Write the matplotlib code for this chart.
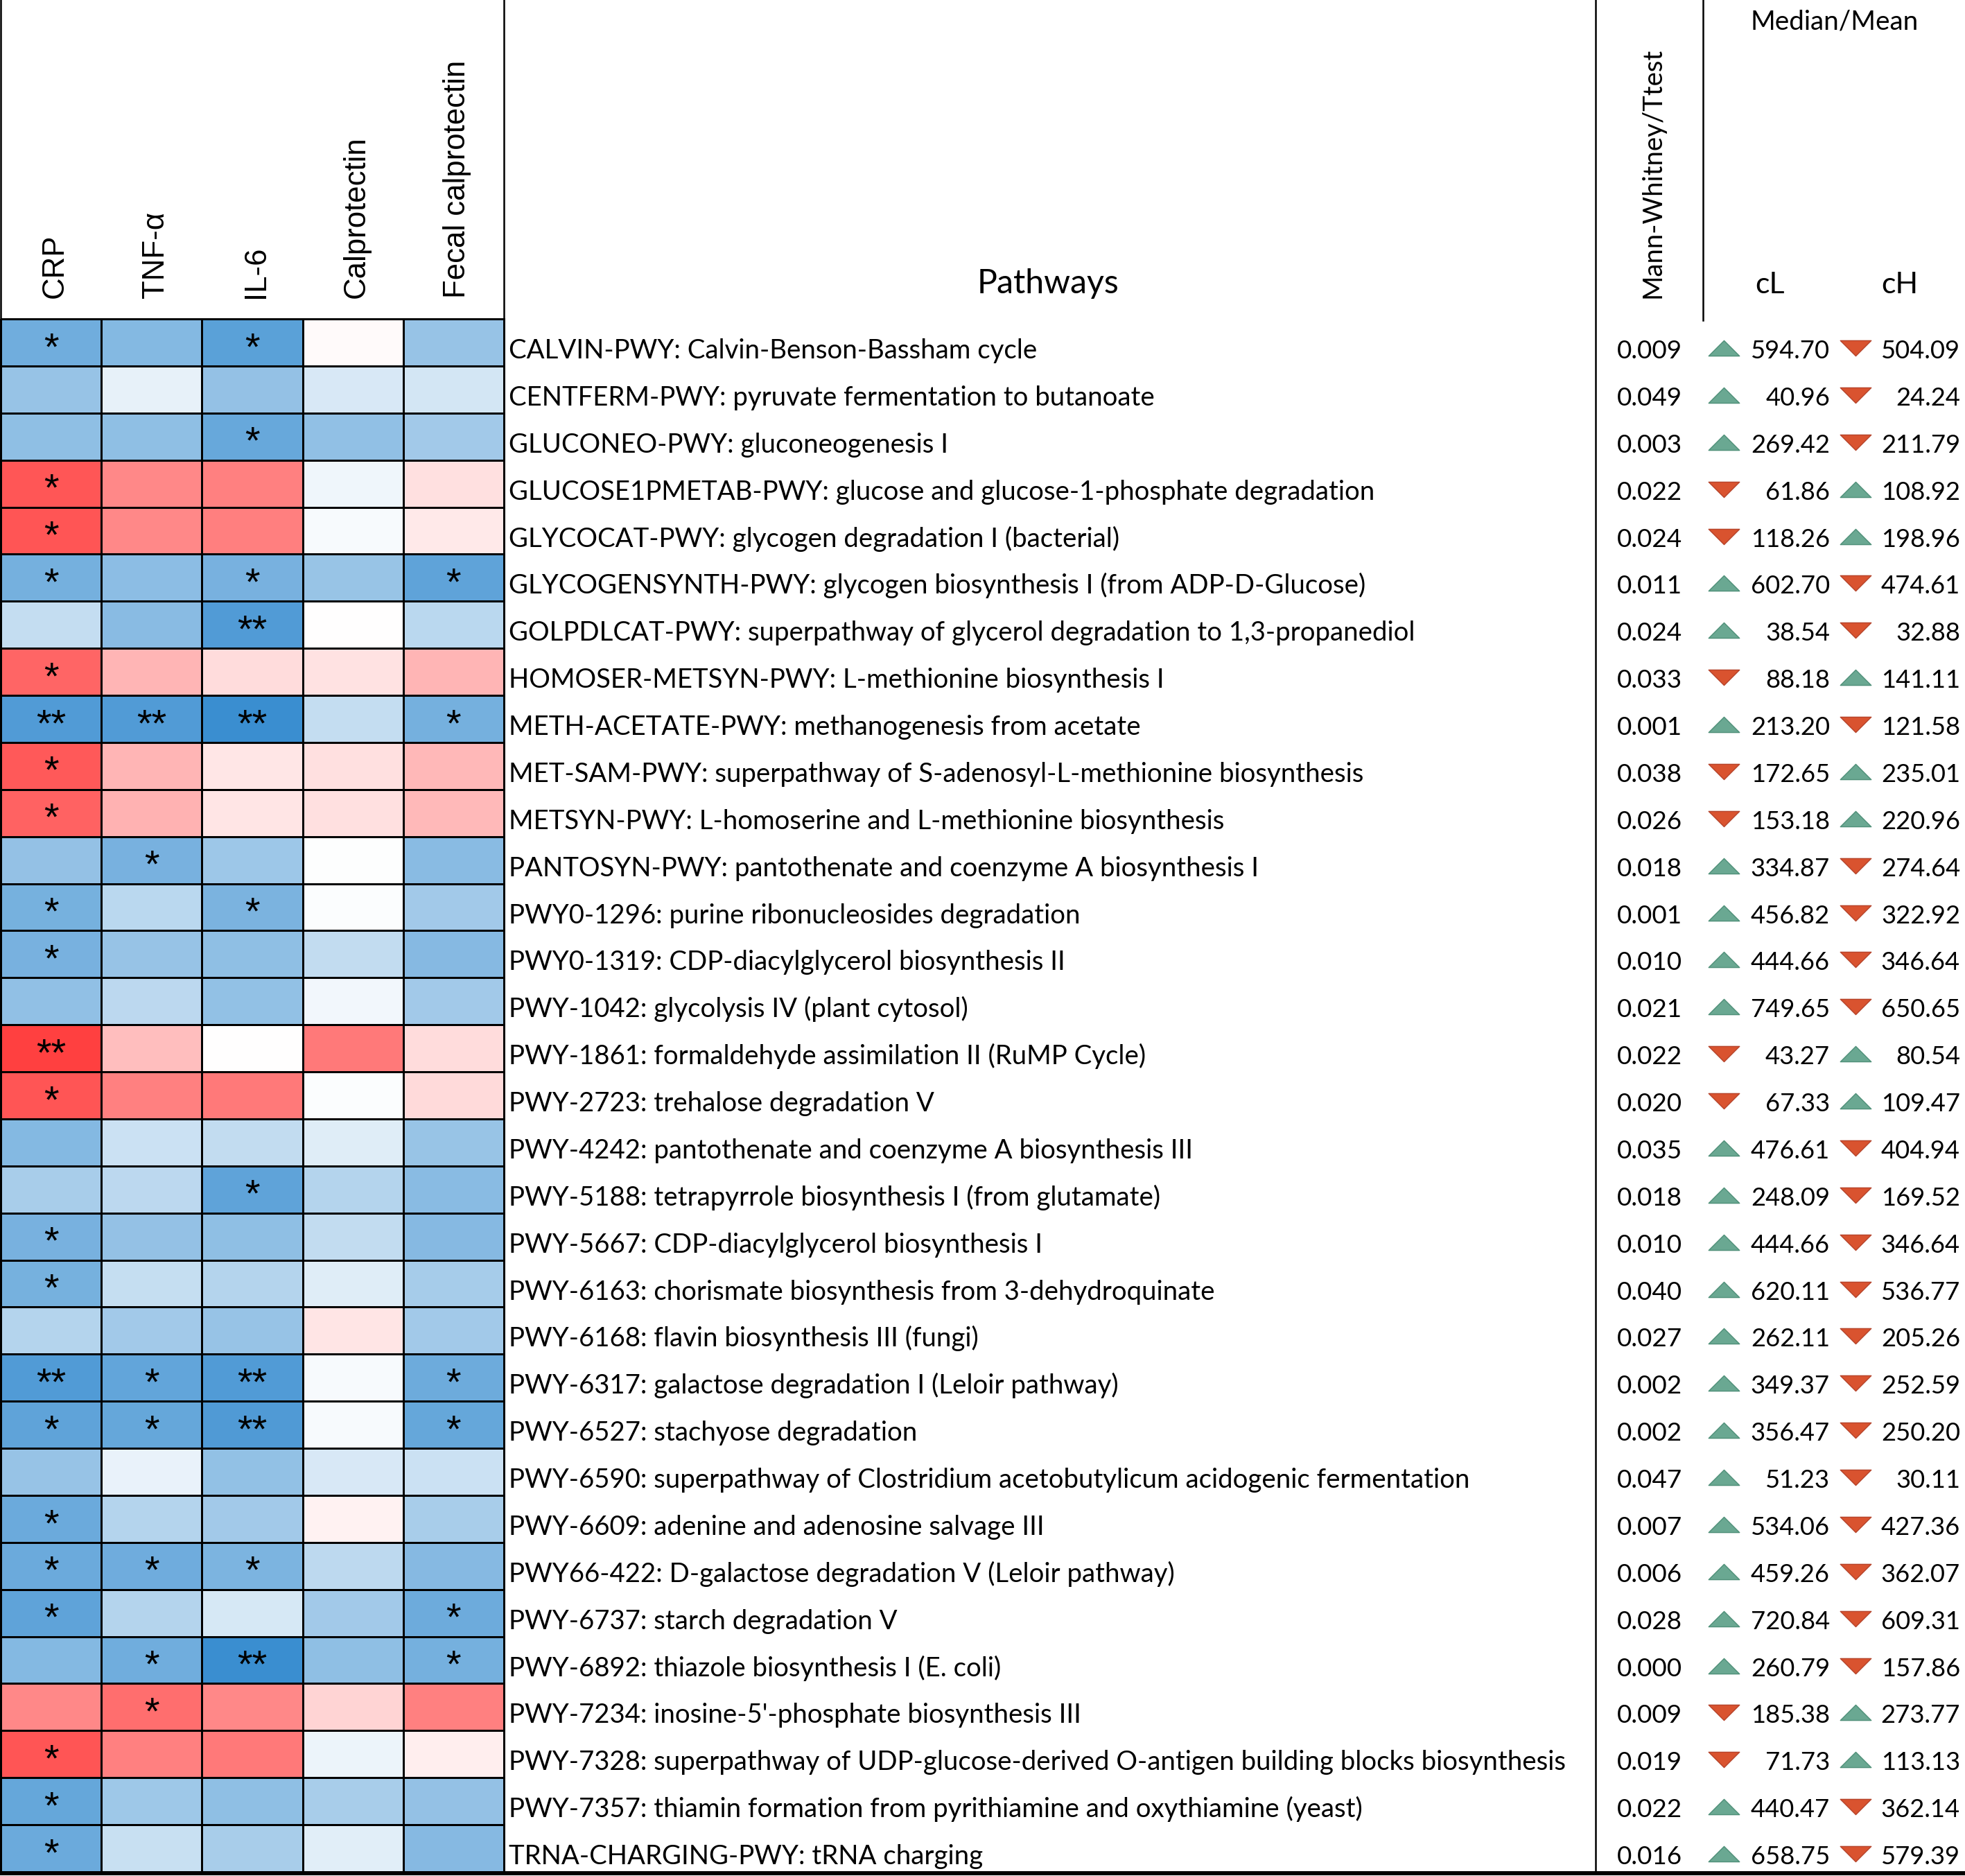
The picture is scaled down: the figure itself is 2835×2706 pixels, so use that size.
import numpy as np
import matplotlib
matplotlib.use("Agg")
import matplotlib.pyplot as plt
from matplotlib.colors import LinearSegmentedColormap
from matplotlib.path import Path

# ---------------- data ----------------
markers = ["CRP", "TNF-α", "IL-6", "Calprotectin", "Fecal calprotectin"]

pathways = [
    "CALVIN-PWY: Calvin-Benson-Bassham cycle",
    "CENTFERM-PWY: pyruvate fermentation to butanoate",
    "GLUCONEO-PWY: gluconeogenesis I",
    "GLUCOSE1PMETAB-PWY: glucose and glucose-1-phosphate degradation",
    "GLYCOCAT-PWY: glycogen degradation I (bacterial)",
    "GLYCOGENSYNTH-PWY: glycogen biosynthesis I (from ADP-D-Glucose)",
    "GOLPDLCAT-PWY: superpathway of glycerol degradation to 1,3-propanediol",
    "HOMOSER-METSYN-PWY: L-methionine biosynthesis I",
    "METH-ACETATE-PWY: methanogenesis from acetate",
    "MET-SAM-PWY: superpathway of S-adenosyl-L-methionine biosynthesis",
    "METSYN-PWY: L-homoserine and L-methionine biosynthesis",
    "PANTOSYN-PWY: pantothenate and coenzyme A biosynthesis I",
    "PWY0-1296: purine ribonucleosides degradation",
    "PWY0-1319: CDP-diacylglycerol biosynthesis II",
    "PWY-1042: glycolysis IV (plant cytosol)",
    "PWY-1861: formaldehyde assimilation II (RuMP Cycle)",
    "PWY-2723: trehalose degradation V",
    "PWY-4242: pantothenate and coenzyme A biosynthesis III",
    "PWY-5188: tetrapyrrole biosynthesis I (from glutamate)",
    "PWY-5667: CDP-diacylglycerol biosynthesis I",
    "PWY-6163: chorismate biosynthesis from 3-dehydroquinate",
    "PWY-6168: flavin biosynthesis III (fungi)",
    "PWY-6317: galactose degradation I (Leloir pathway)",
    "PWY-6527: stachyose degradation",
    "PWY-6590: superpathway of Clostridium acetobutylicum acidogenic fermentation",
    "PWY-6609: adenine and adenosine salvage III",
    "PWY66-422: D-galactose degradation V (Leloir pathway)",
    "PWY-6737: starch degradation V",
    "PWY-6892: thiazole biosynthesis I (E. coli)",
    "PWY-7234: inosine-5'-phosphate biosynthesis III",
    "PWY-7328: superpathway of UDP-glucose-derived O-antigen building blocks biosynthesis",
    "PWY-7357: thiamin formation from pyrithiamine and oxythiamine (yeast)",
    "TRNA-CHARGING-PWY: tRNA charging",
]

# correlation-like intensities (blue < 0 < red), columns follow `markers`
heat = [
    [-0.72, -0.62, -0.83,  0.03, -0.53],
    [-0.53, -0.12, -0.54, -0.20, -0.22],
    [-0.57, -0.57, -0.77, -0.56, -0.47],
    [ 0.88,  0.62,  0.66, -0.08,  0.16],
    [ 0.89,  0.62,  0.67, -0.04,  0.11],
    [-0.70, -0.58, -0.68, -0.52, -0.81],
    [-0.30, -0.60, -0.88,  0.00, -0.35],
    [ 0.80,  0.39,  0.18,  0.15,  0.39],
    [-0.88, -0.88, -1.00, -0.30, -0.70],
    [ 0.86,  0.39,  0.13,  0.16,  0.37],
    [ 0.82,  0.40,  0.14,  0.16,  0.36],
    [-0.54, -0.68, -0.50, -0.01, -0.60],
    [-0.69, -0.35, -0.67, -0.02, -0.47],
    [-0.68, -0.53, -0.57, -0.31, -0.61],
    [-0.56, -0.34, -0.55, -0.07, -0.47],
    [ 1.00,  0.34,  0.00,  0.70,  0.18],
    [ 0.89,  0.66,  0.70, -0.02,  0.19],
    [-0.62, -0.26, -0.31, -0.16, -0.52],
    [-0.44, -0.34, -0.81, -0.38, -0.60],
    [-0.68, -0.54, -0.57, -0.31, -0.61],
    [-0.69, -0.29, -0.38, -0.16, -0.45],
    [-0.38, -0.47, -0.53,  0.14, -0.47],
    [-0.88, -0.79, -0.88, -0.04, -0.74],
    [-0.81, -0.78, -0.89, -0.04, -0.78],
    [-0.53, -0.11, -0.55, -0.20, -0.26],
    [-0.75, -0.38, -0.47,  0.07, -0.44],
    [-0.75, -0.73, -0.66, -0.33, -0.61],
    [-0.81, -0.38, -0.21, -0.47, -0.74],
    [-0.62, -0.72, -1.00, -0.57, -0.70],
    [ 0.62,  0.75,  0.62,  0.22,  0.66],
    [ 0.89,  0.66,  0.70, -0.10,  0.09],
    [-0.78, -0.49, -0.57, -0.44, -0.54],
    [-0.75, -0.28, -0.44, -0.15, -0.61],
]

stars = [
    ["*", "", "*", "", ""],
    ["", "", "", "", ""],
    ["", "", "*", "", ""],
    ["*", "", "", "", ""],
    ["*", "", "", "", ""],
    ["*", "", "*", "", "*"],
    ["", "", "**", "", ""],
    ["*", "", "", "", ""],
    ["**", "**", "**", "", "*"],
    ["*", "", "", "", ""],
    ["*", "", "", "", ""],
    ["", "*", "", "", ""],
    ["*", "", "*", "", ""],
    ["*", "", "", "", ""],
    ["", "", "", "", ""],
    ["**", "", "", "", ""],
    ["*", "", "", "", ""],
    ["", "", "", "", ""],
    ["", "", "*", "", ""],
    ["*", "", "", "", ""],
    ["*", "", "", "", ""],
    ["", "", "", "", ""],
    ["**", "*", "**", "", "*"],
    ["*", "*", "**", "", "*"],
    ["", "", "", "", ""],
    ["*", "", "", "", ""],
    ["*", "*", "*", "", ""],
    ["*", "", "", "", "*"],
    ["", "*", "**", "", "*"],
    ["", "*", "", "", ""],
    ["*", "", "", "", ""],
    ["*", "", "", "", ""],
    ["*", "", "", "", ""],
]

p_values = [0.009, 0.049, 0.003, 0.022, 0.024, 0.011, 0.024, 0.033, 0.001, 0.038,
            0.026, 0.018, 0.001, 0.010, 0.021, 0.022, 0.020, 0.035, 0.018, 0.010,
            0.040, 0.027, 0.002, 0.002, 0.047, 0.007, 0.006, 0.028, 0.000, 0.009,
            0.019, 0.022, 0.016]

cL = [594.70, 40.96, 269.42, 61.86, 118.26, 602.70, 38.54, 88.18, 213.20, 172.65,
      153.18, 334.87, 456.82, 444.66, 749.65, 43.27, 67.33, 476.61, 248.09, 444.66,
      620.11, 262.11, 349.37, 356.47, 51.23, 534.06, 459.26, 720.84, 260.79, 185.38,
      71.73, 440.47, 658.75]

cH = [504.09, 24.24, 211.79, 108.92, 198.96, 474.61, 32.88, 141.11, 121.58, 235.01,
      220.96, 274.64, 322.92, 346.64, 650.65, 80.54, 109.47, 404.94, 169.52, 346.64,
      536.77, 205.26, 252.59, 250.20, 30.11, 427.36, 362.07, 609.31, 157.86, 273.77,
      113.13, 362.14, 579.39]

# ---------------- figure ----------------
W, H = 2835, 2706
fig = plt.figure(figsize=(W / 100, H / 100), dpi=100)
ax = fig.add_axes([0, 0, 1, 1])
ax.set_xlim(0, W)
ax.set_ylim(H, 0)
ax.axis("off")
renderer = fig.canvas.get_renderer()

SANS = "Lato"
HEAD = "Liberation Sans"


def fit(text, family, target, base=30.0):
    t = ax.text(0, 0, text, fontsize=base, family=family)
    w = t.get_window_extent(renderer).width
    t.remove()
    return base * target / w


cmap = LinearSegmentedColormap.from_list(
    "bwr_custom", [(0.0, "#3a8ed0"), (0.5, "#ffffff"), (1.0, "#ff4040")])

n = len(pathways)
HM_X0, HM_X1 = 1, 727
HM_Y0, HM_Y1 = 460, 2700
xe = np.linspace(HM_X0, HM_X1, len(markers) + 1)
ye = np.linspace(HM_Y0, HM_Y1, n + 1)
xc = (xe[:-1] + xe[1:]) / 2

ax.pcolormesh(xe, ye, np.array(heat), cmap=cmap, vmin=-1, vmax=1,
              edgecolors="black", linewidth=1.8)

star_fs = 40
for i in range(n):
    for j in range(len(markers)):
        if stars[i][j]:
            ax.text(xc[j], ye[i] + 58, stars[i][j], ha="center", va="baseline",
                    fontsize=star_fs, family=HEAD, color="black")

# heatmap column headers
hfs = fit("Fecal calprotectin", HEAD, 342)
for j, m in enumerate(markers):
    ax.text(xc[j] + 17, 430, m, rotation=90, rotation_mode="anchor",
            ha="left", va="baseline", fontsize=hfs, family=HEAD)

# pathway labels
longest = max(pathways, key=len)
lfs = fit(longest, SANS, 1524)
for i, p in enumerate(pathways):
    ax.text(734, ye[i] + 57, p, ha="left", va="baseline", fontsize=lfs, family=SANS)

# p-values and medians
pfs = fit("0.009", SANS, 94)
nfs = fit("594.70", SANS, 114)
up_path = Path([(-1, -0.5), (1, -0.5), (0, 0.5), (-1, -0.5)],
               [Path.MOVETO, Path.LINETO, Path.LINETO, Path.CLOSEPOLY])
dn_path = Path([(-1, 0.5), (1, 0.5), (0, -0.5), (-1, 0.5)],
               [Path.MOVETO, Path.LINETO, Path.LINETO, Path.CLOSEPOLY])
GREEN, GREEN_E = "#6aa892", "#4e8f78"
RED, RED_E = "#d9532f", "#b5432a"
tri_s = 32 ** 2

for i in range(n):
    yb = ye[i] + 57
    ax.text(2427, yb, f"{p_values[i]:.3f}", ha="right", va="baseline",
            fontsize=pfs, family=SANS)
    ax.text(2640, yb, f"{cL[i]:.2f}", ha="right", va="baseline",
            fontsize=nfs, family=SANS)
    ax.text(2828, yb, f"{cH[i]:.2f}", ha="right", va="baseline",
            fontsize=nfs, family=SANS)
    higher_L = cL[i] > cH[i]
    ax.scatter([2487], [yb - 15], s=tri_s, marker=up_path if higher_L else dn_path,
               c=GREEN if higher_L else RED, edgecolors=GREEN_E if higher_L else RED_E,
               linewidths=1, zorder=3)
    ax.scatter([2677], [yb - 15], s=tri_s, marker=dn_path if higher_L else up_path,
               c=RED if higher_L else GREEN, edgecolors=RED_E if higher_L else GREEN_E,
               linewidths=1, zorder=3)

# right-side headers
ax.text(1512, 423, "Pathways", ha="center", va="baseline",
        fontsize=fit("Pathways", SANS, 205), family=SANS)
ax.text(2647, 43, "Median/Mean", ha="center", va="baseline",
        fontsize=fit("Median/Mean", SANS, 242), family=SANS)
cfs = fit("cH", SANS, 53)
ax.text(2553, 423, "cL", ha="center", va="baseline", fontsize=cfs, family=SANS)
ax.text(2741, 423, "cH", ha="center", va="baseline", fontsize=cfs, family=SANS)
ax.text(2395, 430, "Mann-Whitney/Ttest", rotation=90, rotation_mode="anchor",
        ha="left", va="baseline", fontsize=fit("Mann-Whitney/Ttest", SANS, 360),
        family=SANS)

# frame lines
lw = 1.8
ax.plot([1, 1], [0, 2702], color="black", lw=lw)
ax.plot([727, 727], [0, 2702], color="black", lw=lw)
ax.plot([2302, 2302], [0, 2702], color="black", lw=lw)
ax.plot([2457, 2457], [0, 462], color="black", lw=lw)
ax.plot([0, W], [2702, 2702], color="black", lw=4.3, solid_capstyle="butt")

fig.savefig("out.png", dpi=100)
